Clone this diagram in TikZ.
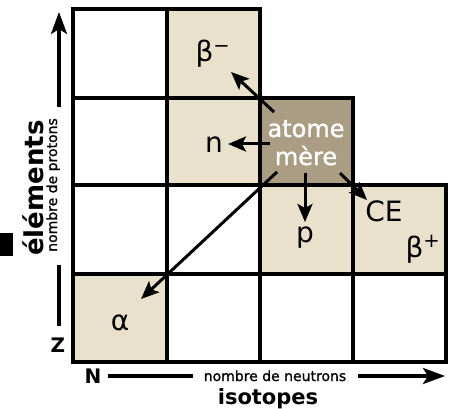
\documentclass[tikz,border=0pt]{standalone}
\usepackage{fontspec}
\setmainfont{DejaVu Sans}
\newfontfamily\semibfont[FakeBold=1.2]{DejaVu Sans}
\usetikzlibrary{arrows.meta}
\definecolor{beige}{RGB}{233,225,203}
\definecolor{darkcell}{RGB}{170,157,132}
\begin{document}
\begin{tikzpicture}[x=1pt,y=-1pt,
  cellline/.style={line width=3.4pt},
  conn/.style={line width=3pt,-{Stealth[length=18pt,width=15pt,inset=4pt]}},
  axisline/.style={line width=3.4pt},
  axisarrow/.style={line width=3.4pt,-{Stealth[length=22pt,width=16pt,inset=5pt]}},
  sym/.style={font=\fontsize{28}{30}\selectfont,anchor=base,inner sep=0pt},
  mother/.style={font=\semibfont\fontsize{24}{26}\selectfont,anchor=base,inner sep=0pt,text=white},
  small/.style={font=\semibfont\fontsize{14}{16}\selectfont,anchor=base,inner sep=0pt},
  big/.style={font=\bfseries\fontsize{21}{24}\selectfont,anchor=base,inner sep=0pt},
  axletter/.style={font=\bfseries\fontsize{20}{22}\selectfont,anchor=base,inner sep=0pt}]
\useasboundingbox (0,0) rectangle (450,409);
% cells fills
\fill[beige] (167,9) rectangle (260,98);
\fill[beige] (167,98) rectangle (260,185);
\fill[darkcell] (260,98) rectangle (353,185);
\fill[beige] (260,185) rectangle (353,274);
\fill[beige] (353,185) rectangle (446,274);
\fill[beige] (73,274) rectangle (167,362);
% grid
\draw[cellline] (73,9) rectangle (167,98);
\draw[cellline] (167,9) rectangle (260,98);
\draw[cellline] (73,98) rectangle (167,185);
\draw[cellline] (167,98) rectangle (260,185);
\draw[cellline] (260,98) rectangle (353,185);
\draw[cellline] (73,185) rectangle (167,274);
\draw[cellline] (167,185) rectangle (260,274);
\draw[cellline] (260,185) rectangle (353,274);
\draw[cellline] (353,185) rectangle (446,274);
\draw[cellline] (73,274) rectangle (167,362);
\draw[cellline] (167,274) rectangle (260,362);
\draw[cellline] (260,274) rectangle (353,362);
\draw[cellline] (353,274) rectangle (446,362);
% labels
\node[sym] (bm) at (213,62) {β\textsuperscript{−}};
\node[sym] (n) at (214,153) {n};
\node[mother] (atome) at (306,137) {atome};
\node[mother] (mere) at (306,165) {mère};
\node[sym] (p) at (305,242) {p};
\node[sym] (ce) at (384,222) {CE};
\node[sym] (bp) at (423,257) {β\textsuperscript{+}};
\node[sym] (alpha) at (120,330) {α};
% arrow coordinates
\coordinate (sbm) at (274,112);
\coordinate (ebm) at (231,72);
\coordinate (sn) at (270,144);
\coordinate (en) at (228,144);
\coordinate (sp) at (305,173);
\coordinate (ep) at (305,222);
\coordinate (sce) at (340,173);
\coordinate (ece) at (367,200);
\coordinate (sa) at (277,172);
\coordinate (ea) at (141,299);
\draw[conn] (sbm) -- (ebm);
\draw[conn] (sn) -- (en);
\draw[conn] (sp) -- (ep);
\draw[conn] (sce) -- (ece);
\draw[conn] (sa) -- (ea);
% vertical axis
\coordinate (v0) at (59,326);
\coordinate (v1) at (59,265);
\coordinate (v2) at (59,107);
\coordinate (v3) at (59,12);
\draw[axisline] (v0) -- (v1);
\draw[axisarrow] (v2) -- (v3);
\node[small,rotate=90] (protons) at (57,185) {nombre de protons};
\node[big,font=\bfseries\fontsize{26}{28}\selectfont,rotate=90] (elem) at (43,188) {éléments};
\node[axletter] (z) at (58,352) {Z};
% horizontal axis
\coordinate (h0) at (108,376);
\coordinate (h1) at (193,376);
\coordinate (h2) at (358,376);
\coordinate (h3) at (445,376);
\draw[axisline] (h0) -- (h1);
\draw[axisarrow] (h2) -- (h3);
\node[small] (neutrons) at (275,381) {nombre de neutrons};
\node[big] (iso) at (268,404) {isotopes};
\node[axletter] (nn) at (93,383) {N};
% black mark at left
\fill[black] (0,233) rectangle (13,256);
\end{tikzpicture}
\end{document}
